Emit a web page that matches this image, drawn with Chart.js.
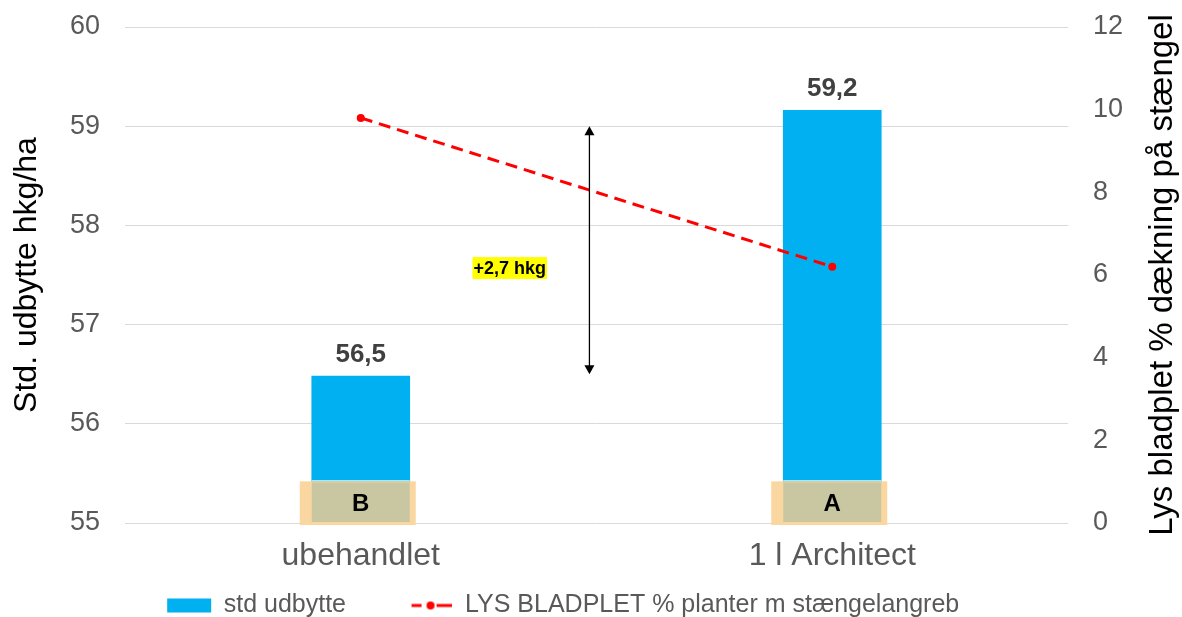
<!DOCTYPE html>
<html>
<head>
<meta charset="utf-8">
<script src="https://cdn.jsdelivr.net/npm/chart.js@4.4.1/dist/chart.umd.min.js"></script>
<style>
  html, body { margin: 0; padding: 0; background: #fff; }
  #wrap { width: 1182px; height: 617px; }
</style>
</head>
<body>
<div id="wrap"><canvas id="chart"></canvas></div>
<script>
// --- data ---
const categories   = ["ubehandlet", "1 l Architect"];
const udbytte      = [56.48, 59.16];      // std udbytte hkg/ha (left axis)
const bladplet     = [9.8, 6.2];          // LYS BLADPLET % (right axis)
const letters      = ["B", "A"];          // significance letters
const leftTicks    = [55, 56, 57, 58, 59, 60];
const rightTicks   = [0, 2, 4, 6, 8, 10, 12];
const arrowSpan    = [56.5, 59.0];        // double arrow, hkg/ha
const diffLabel    = "+2,7 hkg";
const rightTitle   = "Lys bladplet % dækning på stængel";

const FONT = "'Liberation Sans', Arial, sans-serif";
const COLORS = {
  bar:   "#00B0F0",
  line:  "#FF0000",
  tick:  "#595959",
  title: "#000000",
  grid:  "#D9D9D9",
  label: "#404040",
  boxOuter: "#FAD7A0",
  boxInner: "#C9C7A1",
};

// little legend icon for the dashed line with marker
const lineIcon = document.createElement("canvas");
lineIcon.width = 42; lineIcon.height = 14;
(() => {
  const c = lineIcon.getContext("2d");
  c.strokeStyle = COLORS.line; c.fillStyle = COLORS.line; c.lineWidth = 3;
  c.beginPath(); c.moveTo(2, 7); c.lineTo(12, 7); c.moveTo(27, 7); c.lineTo(42, 7); c.stroke();
  c.beginPath(); c.arc(21, 7, 4, 0, Math.PI * 2); c.fill();
})();

// no extra half-label padding above/below the vertical axes
function tightY(scale) {
  scale.paddingTop = 0;
  scale.paddingBottom = 0;
}

const annotations = {
  id: "annotations",
  afterDatasetsDraw(chart) {
    const { ctx, scales } = chart;
    const x = scales.x, y = scales.y;
    const meta = chart.getDatasetMeta(0);
    ctx.save();
    meta.data.forEach((bar, i) => {
      const w = bar.width, left = bar.x - w / 2;
      const top = y.getPixelForValue(55.42);
      const bottom = y.getPixelForValue(55) + 2;
      ctx.fillStyle = "#fff";
      ctx.fillRect(left, top - 1, w, 1);
      ctx.fillStyle = COLORS.boxOuter;
      ctx.fillRect(left - 12, top, w + 18, bottom - top);
      ctx.fillStyle = COLORS.boxInner;
      ctx.fillRect(left, top + 1, w, bottom - top - 4);
      ctx.fillStyle = "#000";
      ctx.font = "bold 24px " + FONT;
      ctx.textAlign = "center";
      ctx.textBaseline = "middle";
      ctx.fillText(letters[i], bar.x, (top + bottom) / 2 + 1);

      ctx.fillStyle = COLORS.label;
      ctx.font = "bold 26px " + FONT;
      ctx.textBaseline = "bottom";
      ctx.fillText(udbytte[i].toFixed(1).replace(".", ","), bar.x, bar.y - 8);
    });

    // double arrow
    const ax = x.getPixelForValue(0.485);
    const y1 = y.getPixelForValue(arrowSpan[0]);
    const y2 = y.getPixelForValue(arrowSpan[1]);
    ctx.strokeStyle = "#000"; ctx.fillStyle = "#000"; ctx.lineWidth = 1.3;
    ctx.beginPath(); ctx.moveTo(ax, y1 - 6); ctx.lineTo(ax, y2 + 6); ctx.stroke();
    ctx.beginPath(); ctx.moveTo(ax, y2); ctx.lineTo(ax - 5, y2 + 9); ctx.lineTo(ax + 5, y2 + 9); ctx.closePath(); ctx.fill();
    ctx.beginPath(); ctx.moveTo(ax, y1); ctx.lineTo(ax - 5, y1 - 9); ctx.lineTo(ax + 5, y1 - 9); ctx.closePath(); ctx.fill();

    // difference label
    const lx = x.getPixelForValue(0.316);
    const ly = y.getPixelForValue(57.57);
    ctx.font = "bold 18px " + FONT;
    const tw = ctx.measureText(diffLabel).width;
    ctx.fillStyle = "#FFFF00";
    ctx.fillRect(lx - tw / 2 - 1, ly - 11, tw + 2, 22);
    ctx.fillStyle = "#000";
    ctx.textAlign = "center"; ctx.textBaseline = "middle";
    ctx.fillText(diffLabel, lx, ly + 1);

    // right axis title, read bottom to top like the left one
    const r = scales.y1;
    ctx.font = "33px " + FONT;
    ctx.fillStyle = COLORS.title;
    ctx.textBaseline = "alphabetic";
    ctx.translate(r.right - 10, (chart.chartArea.top + chart.chartArea.bottom) / 2);
    ctx.rotate(-Math.PI / 2);
    ctx.fillText(rightTitle, 0, 0);
    ctx.restore();
  },
};

new Chart(document.getElementById("chart"), {
  type: "bar",
  data: {
    labels: categories,
    datasets: [
      {
        label: "std udbytte" + "\u00a0".repeat(9),
        data: udbytte,
        backgroundColor: COLORS.bar,
        borderWidth: 0,
        barThickness: 98,
        yAxisID: "y",
        order: 1,
      },
      {
        type: "line",
        label: "LYS BLADPLET % planter m stængelangreb" + "\u00a0".repeat(8),
        data: bladplet,
        borderColor: COLORS.line,
        backgroundColor: COLORS.line,
        borderWidth: 3,
        borderDash: [12, 7],
        pointRadius: 4,
        pointBackgroundColor: COLORS.line,
        pointBorderWidth: 0,
        yAxisID: "y1",
        order: 0,
      },
    ],
  },
  options: {
    responsive: true,
    maintainAspectRatio: false,
    animation: false,
    layout: { padding: { top: 27, left: 0, right: 0, bottom: -11 } },
    plugins: {
      tooltip: { enabled: false },
      legend: {
        position: "bottom",
        labels: {
          usePointStyle: true,
          pointStyleWidth: 44,
          boxHeight: 14,
          padding: 0,
          color: COLORS.tick,
          font: { family: FONT, size: 25 },
          generateLabels(chart) {
            const items = Chart.defaults.plugins.legend.labels.generateLabels(chart);
            items.sort((a, b) => a.datasetIndex - b.datasetIndex);
            items[0].pointStyle = "rect";
            items[0].lineWidth = 0;
            items[1].pointStyle = lineIcon;
            return items;
          },
        },
      },
    },
    scales: {
      x: {
        grid: { display: false },
        border: { display: false },
        ticks: { color: COLORS.tick, font: { family: FONT, size: 32 }, padding: 6 },
        afterFit(scale) { scale.height = 70; },
      },
      y: {
        position: "left",
        min: leftTicks[0],
        max: leftTicks[leftTicks.length - 1],
        afterBuildTicks(scale) { scale.ticks = leftTicks.map((v) => ({ value: v })); },
        afterFit(scale) { scale.width = 125; tightY(scale); },
        grid: { color: COLORS.grid, drawTicks: false },
        border: { display: false },
        ticks: { color: COLORS.tick, font: { family: FONT, size: 27 }, padding: 25 },
        title: {
          display: true,
          text: "Std. udbytte hkg/ha",
          color: COLORS.title,
          font: { family: FONT, size: 32 },
          padding: { top: 8, bottom: 0 },
        },
      },
      y1: {
        position: "right",
        min: rightTicks[0],
        max: rightTicks[rightTicks.length - 1],
        afterBuildTicks(scale) { scale.ticks = rightTicks.map((v) => ({ value: v })); },
        afterFit(scale) { scale.width = 114; tightY(scale); },
        grid: { display: false, drawTicks: false },
        border: { display: false },
        ticks: { color: COLORS.tick, font: { family: FONT, size: 27 }, padding: 25 },
      },
    },
  },
  plugins: [annotations],
});
</script>
</body>
</html>
